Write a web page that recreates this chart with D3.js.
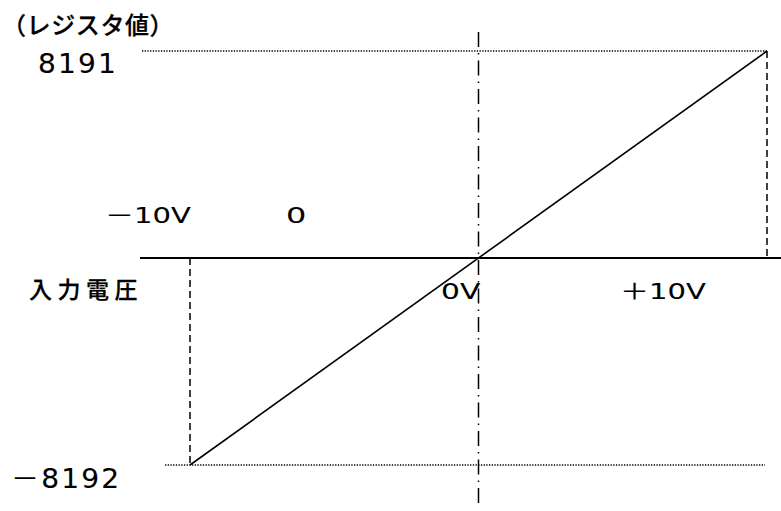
<!DOCTYPE html>
<html>
<head>
<meta charset="utf-8">
<script src="https://cdn.jsdelivr.net/npm/d3@7"></script>
<style>
  html, body { margin: 0; padding: 0; background: #fff; }
  svg { display: block; }
  text { font-family: "DejaVu Sans", "Noto Sans CJK JP", sans-serif; fill: #000; stroke: #000; stroke-width: 0.1; }
  text.cjk { font-family: "Noto Sans CJK JP", sans-serif; font-weight: 500; stroke-width: 0.25; }
</style>
</head>
<body>
<svg id="chart" width="781" height="511"></svg>
<script>
// ---- data ----
const voltageDomain = [-10, 10];          // input voltage range (V)
const registerDomain = [-8192, 8191];     // register value range
const lineVoltage = [-10, 10];            // conversion line, x values
const lineRegister = [-8192, 8191];       // conversion line, y values
const registerTickLabels = ["8191", "－8192"];
const registerTickValues = [8191, -8192];
const voltageLabelsUpper = ["－10V", "0"];
const voltageLabelsLower = ["0V", "＋10V"];
const yTitle = "（レジスタ値）";
const xTitle = "入力電圧";

// ---- layout ----
const W = 781, H = 511;
const svg = d3.select("#chart");

const x = d3.scaleLinear().domain(voltageDomain).range([190, 767]);
const y = d3.scaleLinear().domain(registerDomain).range([465, 51]);

const y0 = y(0);
const xZero = x(0);

// horizontal axis (solid)
svg.append("line")
  .attr("x1", 140).attr("x2", W)
  .attr("y1", y0).attr("y2", y0)
  .attr("stroke", "#000").attr("stroke-width", 2);

// vertical centre line (dash-dot)
svg.append("line")
  .attr("x1", xZero).attr("x2", xZero)
  .attr("y1", 32).attr("y2", 508)
  .attr("stroke", "#000").attr("stroke-width", 1.5)
  .attr("stroke-dasharray", "15,6,1.5,6");

// dotted reference lines at register extremes
svg.append("line")
  .attr("x1", 142).attr("x2", x(10))
  .attr("y1", y(8191)).attr("y2", y(8191))
  .attr("stroke", "#000").attr("stroke-width", 1.3)
  .attr("stroke-dasharray", "1.3,1.4");
svg.append("line")
  .attr("x1", 165).attr("x2", x(10) - 2)
  .attr("y1", y(-8192)).attr("y2", y(-8192))
  .attr("stroke", "#000").attr("stroke-width", 1.3)
  .attr("stroke-dasharray", "1.3,1.4");

// dashed verticals at voltage extremes
svg.append("line")
  .attr("x1", x(-10)).attr("x2", x(-10))
  .attr("y1", y0).attr("y2", y(-8192))
  .attr("stroke", "#000").attr("stroke-width", 1.5)
  .attr("stroke-dasharray", "7,4");
svg.append("line")
  .attr("x1", x(10)).attr("x2", x(10))
  .attr("y1", y(8191)).attr("y2", y0)
  .attr("stroke", "#000").attr("stroke-width", 1.5)
  .attr("stroke-dasharray", "7,4");

// conversion line
const pts = lineVoltage.map((v, i) => [v, lineRegister[i]]);
svg.append("path")
  .datum(pts)
  .attr("fill", "none")
  .attr("stroke", "#000").attr("stroke-width", 1.6)
  .attr("d", d3.line().x(d => x(d[0])).y(d => y(d[1])));

// ---- text ----
function label(str, px, py, size, sx, ls, cls) {
  const t = svg.append("text")
    .attr("transform", `translate(${px},${py}) scale(${sx},1)`)
    .attr("font-size", size)
    .attr("letter-spacing", ls)
    .text(str);
  if (cls) t.attr("class", cls);
  return t;
}

label(yTitle, 2, 34, 24, 1, 0.6, "cjk");

// register labels
label(registerTickLabels[0], 38, y(registerTickValues[0]) + 22, 26, 1.08, 2, null);
label(registerTickLabels[1], 11, y(registerTickValues[1]) + 23, 26, 1.08, 2, null);

// voltage labels (upper row)
label(voltageLabelsUpper[0], 105, 223, 22, 1.32, 0, null);
label(voltageLabelsUpper[1], 286, 223, 22, 1.45, 0, null);

// x title
label(xTitle, 29, 298, 23, 1, 5.5, "cjk");

// voltage labels (lower row)
label(voltageLabelsLower[0], 441, 299, 22, 1.35, 0, null);
label(voltageLabelsLower[1], 620, 299, 22, 1.32, 0, null);
</script>
</body>
</html>
